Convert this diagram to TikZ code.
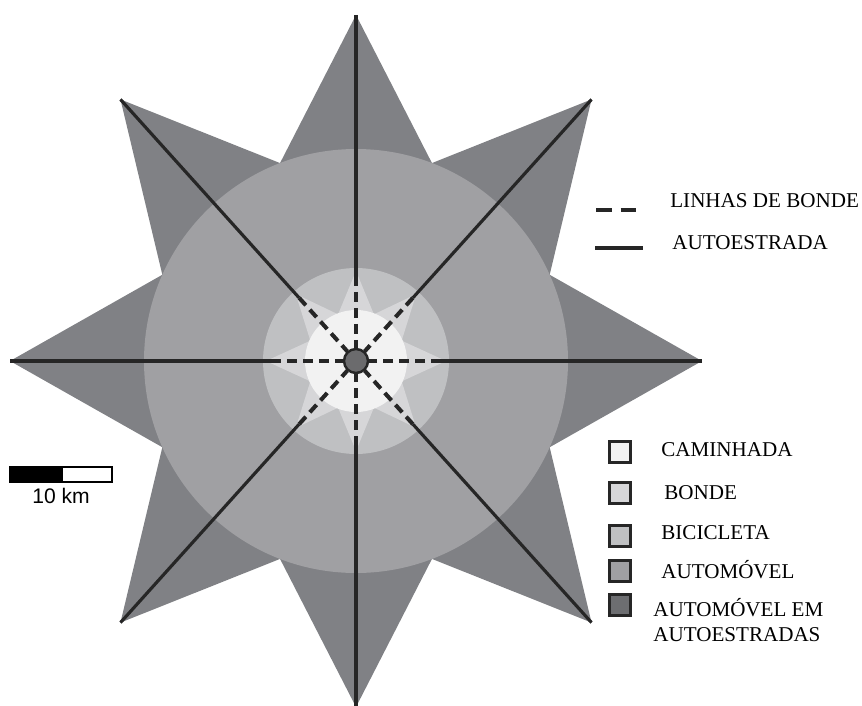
\documentclass[tikz,border=0pt]{standalone}
\usepackage{fontspec}
\setmainfont{Liberation Serif}
\newfontfamily\barfont{Liberation Sans}
\usetikzlibrary{positioning, calc}
\definecolor{walkgrey}{HTML}{F2F2F2}
\definecolor{tramgrey}{HTML}{D6D6D8}
\definecolor{bikegrey}{HTML}{BFC0C2}
\definecolor{cargrey}{HTML}{A0A0A3}
\definecolor{motorgrey}{HTML}{808185}
\definecolor{hubgrey}{HTML}{6B6B6D}

\begin{document}
\begin{tikzpicture}[x=0.02cm, y=-0.02cm,
    % zone and line styles
    motorway/.style={line width=1.8pt, draw=black!85},
    tramline/.style={line width=2.3pt, draw=black!85, dash pattern=on 5.7pt off 3.4pt},
    keydash/.style={line width=2.3pt, draw=black!85, dash pattern=on 9pt off 5pt},
    keybox/.style={draw=black!85, line width=1.8pt, minimum size=0.42cm, inner sep=0pt},
    keytext/.style={font=\fontsize{12}{14}\selectfont, anchor=west, align=left, inner sep=0pt},
]
\useasboundingbox (0,0) rectangle (862,706);
\coordinate (hub) at (356,361);

% ============================================================================
% ZONES
% ============================================================================
\begin{scope}[shift={(hub)}]
    % arm angle / tip radius / notch angle
    \fill[motorgrey] (0:346) \foreach \a/\r/\m in {0/346/24,48/352/69,90/346/111,132/352/156,180/346/204,228/352/249,270/346/291,312/352/336}{ -- (\a:\r) -- (\m:212)} -- cycle;
    \fill[cargrey] (0,0) circle (212);
    \fill[bikegrey] (0,0) circle (93);
    \fill[tramgrey] (0:90) \foreach \a/\r/\m in {0/346/24,48/352/69,90/346/111,132/352/156,180/346/204,228/352/249,270/346/291,312/352/336}{ -- (\a:90) -- (\m:50)} -- cycle;
    \fill[walkgrey] (0,0) circle (51);

    % radial roads and tram lines
    \foreach \a/\r in {0/346,48/352,90/346,132/352,180/346,228/352,270/346,312/352} {
        \draw[motorway] (\a:\r) -- (\a:85);
        \draw[tramline] (\a:85) -- (\a:13);
    }
    \filldraw[fill=hubgrey, draw=black!85, line width=1.4pt] (0,0) circle (12);
\end{scope}

% ============================================================================
% LEGEND
% ============================================================================
\coordinate (tramA) at (596,210);
\coordinate (tramB) at (642,210);
\draw[keydash] (tramA) -- (tramB);
\node[keytext] (tramlabel) at (670,201) {LINHAS DE BONDE};

\coordinate (roadA) at (595,248);
\coordinate (roadB) at (643,248);
\draw[motorway, line width=2.3pt] (roadA) -- (roadB);
\node[keytext] (roadlabel) at (672,243) {AUTOESTRADA};

\node[keybox, fill=walkgrey] (walkbox) at (620,452) {};
\node[keybox, fill=tramgrey] (trambox) at (620,493) {};
\node[keybox, fill=bikegrey] (bikebox) at (620,536) {};
\node[keybox, fill=cargrey] (carbox) at (620,571) {};
\node[keybox, fill=motorgrey!85!black] (motorbox) at (620,605) {};

\node[keytext] (walklabel) at (661,450) {CAMINHADA};
\node[keytext] (tramzone) at (664,493) {BONDE};
\node[keytext] (bikelabel) at (661,533) {BICICLETA};
\node[keytext] (carlabel) at (661,570) {AUTOMÓVEL};
\node[keytext, align=left] (motorlabel) at (653,620) {AUTOMÓVEL EM\\AUTOESTRADAS};

% ============================================================================
% SCALE BAR
% ============================================================================
\filldraw[fill=black, draw=black, line width=1pt] (10,467) rectangle (62,482);
\draw[fill=white, draw=black, line width=1pt] (62,467) rectangle (112,482);
\node[font=\barfont\fontsize{12}{14}\selectfont, inner sep=0pt] (scalelabel) at (61,496) {10 km};

\end{tikzpicture}
\end{document}
